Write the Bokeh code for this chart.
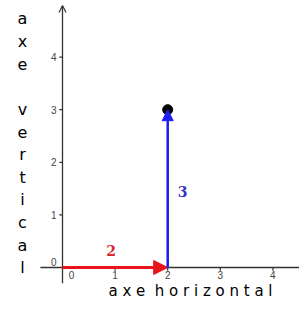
from bokeh.plotting import figure
from bokeh.models import Arrow, NormalHead, OpenHead, ColumnDataSource, Range1d
from bokeh.core.properties import value
from bokeh.embed import file_html
from bokeh.resources import INLINE

# data
x_ticks = [1, 2, 3, 4]
x_tick_labels = ["1", "2", "3", "4"]
y_ticks = [1, 2, 3, 4]
y_tick_labels = ["1", "2", "3", "4"]
vec1 = {"x0": 0, "y0": 0, "x1": 2, "y1": 0, "label": "2"}
vec2 = {"x0": 2, "y0": 0, "x1": 2, "y1": 3, "label": "3"}
point = (2, 3)
v_title = "a\nx\ne\n\nv\ne\nr\nt\ni\nc\na\nl"
h_title = "a x e \u00a0h o r i z o n t a l"

p = figure(width=299, height=301, output_backend="svg", toolbar_location=None,
           x_range=Range1d(-1.1787, 4.5057), y_range=Range1d(-0.6464, 5.076),
           min_border=0, x_axis_type=None, y_axis_type=None)
p.grid.visible = False
p.outline_line_color = None
p.background_fill_color = "white"

axis_col = "#333333"
tick_col = "#444444"

# axes lines
p.segment(x0=[-0.42], y0=[0], x1=[4.6], y1=[0], line_color=axis_col, line_width=1.3)
p.add_layout(Arrow(x_start=0, y_start=-0.30, x_end=0, y_end=4.98,
                   line_color=axis_col, line_width=1.3,
                   end=OpenHead(size=7, line_color=axis_col, line_width=1.2)))

# ticks
src_x = ColumnDataSource(dict(x=x_ticks, y=[0] * len(x_ticks), t=x_tick_labels))
src_y = ColumnDataSource(dict(x=[0] * len(y_ticks), y=y_ticks, t=y_tick_labels))
p.segment(x0="x", y0=0, x1="x", y1=-0.06, source=src_x, line_color=axis_col, line_width=1.2)
p.segment(x0=0, y0="y", x1=-0.06, y1="y", source=src_y, line_color=axis_col, line_width=1.2)

p.text(x="x", y="y", text="t", source=src_x, text_align="center", text_baseline="top",
       y_offset=4, text_font=value("Liberation Sans"), text_font_size="10px", text_color=tick_col)
p.text(x="x", y="y", text="t", source=src_y, text_align="right", text_baseline="middle",
       x_offset=-6, text_font=value("Liberation Sans"), text_font_size="10px", text_color=tick_col)
p.text(x=[0], y=[0], text=["0"], text_align="center", text_baseline="top", x_offset=9, y_offset=4,
       text_font=value("Liberation Sans"), text_font_size="10px", text_color=tick_col)
p.text(x=[0], y=[0], text=["0"], text_align="right", text_baseline="bottom", x_offset=-6, y_offset=-1,
       text_font=value("Liberation Sans"), text_font_size="10px", text_color=tick_col)

# vectors
red = "#e8141c"
blue = "#1c1cf0"
p.add_layout(Arrow(x_start=vec1["x0"], y_start=vec1["y0"], x_end=vec1["x1"], y_end=vec1["y1"],
                   line_color=red, line_width=3,
                   end=NormalHead(size=14, fill_color=red, line_color=red, line_width=1)))
p.add_layout(Arrow(x_start=vec2["x0"], y_start=vec2["y0"], x_end=vec2["x1"], y_end=vec2["y1"],
                   line_color=blue, line_width=2.5,
                   end=NormalHead(size=11, fill_color=blue, line_color=blue, line_width=1)))
p.scatter(x=[point[0]], y=[point[1]], size=10, color="black")

p.text(x=[(vec1["x0"] + vec1["x1"]) / 2], y=[vec1["y0"]], text=[vec1["label"]],
       text_align="center", text_baseline="middle", x_offset=-4, y_offset=-17,
       text_font=value("DejaVu Serif"), text_font_style="bold", text_font_size="14px",
       text_color="#d8282f")
p.text(x=[vec2["x0"]], y=[(vec2["y0"] + vec2["y1"]) / 2], text=[vec2["label"]],
       text_align="center", text_baseline="middle", x_offset=15, y_offset=3,
       text_font=value("DejaVu Serif"), text_font_style="bold", text_font_size="14px",
       text_color="#3434c8")

# titles
p.text(x=[-0.76], y=[4.905], text=[v_title], text_align="center", text_baseline="top",
       text_line_height=1.19, text_font=value("DejaVu Sans"), text_font_size="16px",
       text_color="black")
p.text(x=[2.433], y=[-0.456], text=[h_title], text_align="center", text_baseline="middle",
       text_font=value("DejaVu Sans"), text_font_size="15px", text_color="black")

open("out.html", "w").write(file_html(p, INLINE))
